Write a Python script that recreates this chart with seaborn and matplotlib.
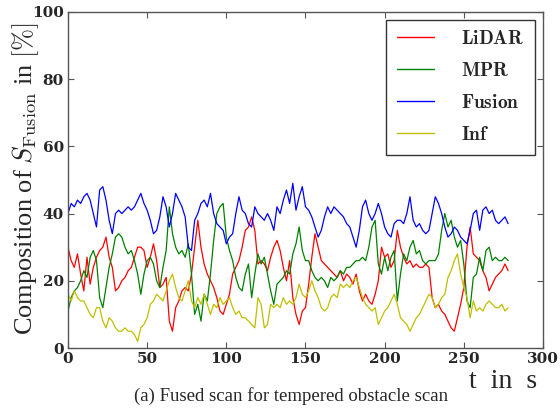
import matplotlib
matplotlib.use("Agg")
import matplotlib.pyplot as plt
import seaborn as sns
import numpy as np
import pandas as pd

t = list(range(0, 280, 2))

lidar = [30, 26, 24, 28, 22, 17, 27, 19, 24, 27, 29, 30, 33, 27, 24, 17, 18, 20, 21, 23,
         24, 27, 30, 30, 29, 24, 27, 31, 26, 18, 19, 21, 8, 5, 12, 14, 17, 18, 17, 22,
         30, 38, 30, 25, 22, 20, 18, 15, 11, 10, 13, 16, 22, 24, 26, 30, 35, 36, 39, 35,
         25, 26, 25, 23, 27, 30, 32, 29, 24, 20, 26, 15, 10, 7, 11, 12, 19, 27, 34, 30,
         26, 25, 24, 23, 22, 21, 23, 20, 22, 21, 19, 22, 17, 14, 16, 14, 13, 16, 20, 30,
         27, 28, 24, 26, 35, 30, 27, 25, 26, 24, 25, 24, 24, 25, 24, 15, 12, 13, 11, 10,
         8, 6, 5, 9, 13, 18, 30, 36, 28, 27, 26, 23, 21, 17, 19, 21, 22, 23, 25, 23]

mpr = [11, 15, 17, 18, 20, 23, 21, 27, 29, 26, 15, 12, 18, 24, 28, 33, 34, 33, 30, 28,
       29, 26, 22, 16, 22, 26, 27, 25, 20, 18, 24, 29, 42, 34, 30, 28, 29, 27, 31, 22,
       10, 13, 8, 16, 14, 22, 32, 40, 42, 43, 33, 29, 26, 21, 18, 17, 22, 25, 15, 22,
       28, 25, 27, 22, 17, 13, 19, 20, 21, 23, 22, 28, 31, 36, 29, 26, 26, 23, 21, 20,
       21, 20, 18, 21, 20, 21, 23, 22, 24, 24, 25, 26, 26, 27, 26, 30, 36, 38, 25, 22,
       27, 23, 27, 29, 14, 22, 28, 26, 30, 32, 28, 29, 26, 25, 26, 26, 26, 28, 35, 40,
       36, 38, 33, 30, 32, 25, 14, 12, 21, 22, 27, 23, 29, 30, 26, 27, 26, 26, 27, 26]

fusion = [40, 43, 42, 44, 43, 45, 46, 44, 40, 36, 47, 48, 44, 38, 34, 40, 41, 40, 41, 42,
          41, 42, 44, 46, 43, 41, 38, 34, 35, 39, 45, 42, 36, 40, 46, 44, 42, 39, 30, 29,
          38, 40, 43, 44, 42, 46, 40, 37, 36, 35, 31, 33, 34, 40, 45, 41, 40, 37, 36, 42,
          40, 39, 38, 40, 38, 35, 42, 40, 44, 47, 43, 49, 41, 45, 48, 42, 41, 39, 36, 33,
          35, 39, 42, 40, 42, 41, 40, 39, 37, 36, 33, 30, 35, 42, 44, 40, 38, 40, 43, 40,
          36, 34, 33, 37, 38, 38, 37, 40, 45, 38, 36, 37, 35, 34, 35, 40, 45, 43, 40, 36,
          33, 34, 36, 35, 33, 32, 31, 35, 40, 41, 35, 41, 42, 40, 41, 38, 37, 38, 39, 37]

inf = [16, 14, 17, 15, 14, 14, 12, 10, 9, 12, 12, 8, 6, 9, 8, 6, 5, 5, 6, 5,
       5, 4, 2, 6, 7, 9, 13, 14, 16, 15, 14, 17, 20, 22, 18, 15, 14, 17, 20, 14,
       12, 15, 13, 16, 13, 10, 13, 12, 15, 13, 14, 15, 12, 10, 11, 9, 9, 8, 7, 6,
       15, 13, 6, 7, 13, 12, 13, 12, 15, 13, 14, 13, 15, 19, 16, 15, 17, 20, 17, 15,
       12, 11, 12, 15, 16, 15, 19, 18, 19, 18, 20, 21, 18, 15, 13, 12, 11, 12, 7, 9,
       11, 12, 14, 16, 13, 9, 8, 7, 5, 7, 9, 10, 12, 14, 16, 15, 12, 13, 15, 16,
       21, 23, 26, 28, 22, 18, 15, 9, 14, 11, 12, 11, 13, 14, 13, 12, 12, 13, 11, 12]

series_names = ["LiDAR", "MPR", "Fusion", "Inf"]
series_colors = ["#ff0000", "#008000", "#0000ff", "#bfbf00"]
x_ticks = [0, 50, 100, 150, 200, 250, 300]
y_ticks = [0, 20, 40, 60, 80, 100]

df = pd.concat([
    pd.DataFrame({"t": t, "v": vals, "series": name})
    for name, vals in zip(series_names, [lidar, mpr, fusion, inf])
], ignore_index=True)

# ---- style ----
sns.set_style("ticks")
plt.rcParams["font.family"] = ["Liberation Serif", "DejaVu Serif"]
plt.rcParams["mathtext.fontset"] = "cm"
plt.rcParams["axes.edgecolor"] = "#555555"
plt.rcParams["axes.linewidth"] = 1.0

fig = plt.figure(figsize=(5.6, 4.08), dpi=100)
ax = fig.add_axes([0.1214, 0.147, 0.8482, 0.824])

sns.lineplot(data=df, x="t", y="v", hue="series", hue_order=series_names,
             palette=dict(zip(series_names, series_colors)), linewidth=0.9,
             ax=ax, legend=False, estimator=None)

ax.set_xlim(0, 300)
ax.set_ylim(0, 100)
ax.set_xticks(x_ticks)
ax.set_yticks(y_ticks)
ax.set_xticklabels([str(v) for v in x_ticks])
ax.set_yticklabels([str(v) for v in y_ticks])
for lab in ax.get_xticklabels() + ax.get_yticklabels():
    lab.set_fontfamily("DejaVu Serif")
    lab.set_fontweight("bold")
    lab.set_fontsize(11)
ax.tick_params(direction="in", length=4, width=0.8, color="#555555",
               top=True, right=True, pad=3)
for s in ax.spines.values():
    s.set_visible(True)

ax.set_xlabel("")
ax.set_ylabel("")
fig.text(0.046, 0.562, r"Composition of $S_{\mathrm{Fusion}}$ in $[\%]$", fontsize=19,
         rotation=90, ha="center", va="center")
fig.text(0.898, 0.05, r"t  in  s", fontsize=20, ha="center", va="baseline")
fig.text(0.52, 0.018, "(a) Fused scan for tempered obstacle scan", fontsize=13.5,
         ha="center", va="baseline")

handles = [plt.Line2D([], [], color=c, lw=1.0) for c in series_colors]
labels = [r"$\mathbf{%s}$" % n for n in series_names]
leg = ax.legend(handles, labels, loc="upper right", fontsize=14, frameon=True,
                fancybox=False, edgecolor="#333333", framealpha=1,
                handlelength=1.9, handletextpad=1.4, labelspacing=0.72,
                borderpad=0.55, borderaxespad=0.4)
leg.get_frame().set_linewidth(1.0)

fig.savefig("out.png", dpi=100)
